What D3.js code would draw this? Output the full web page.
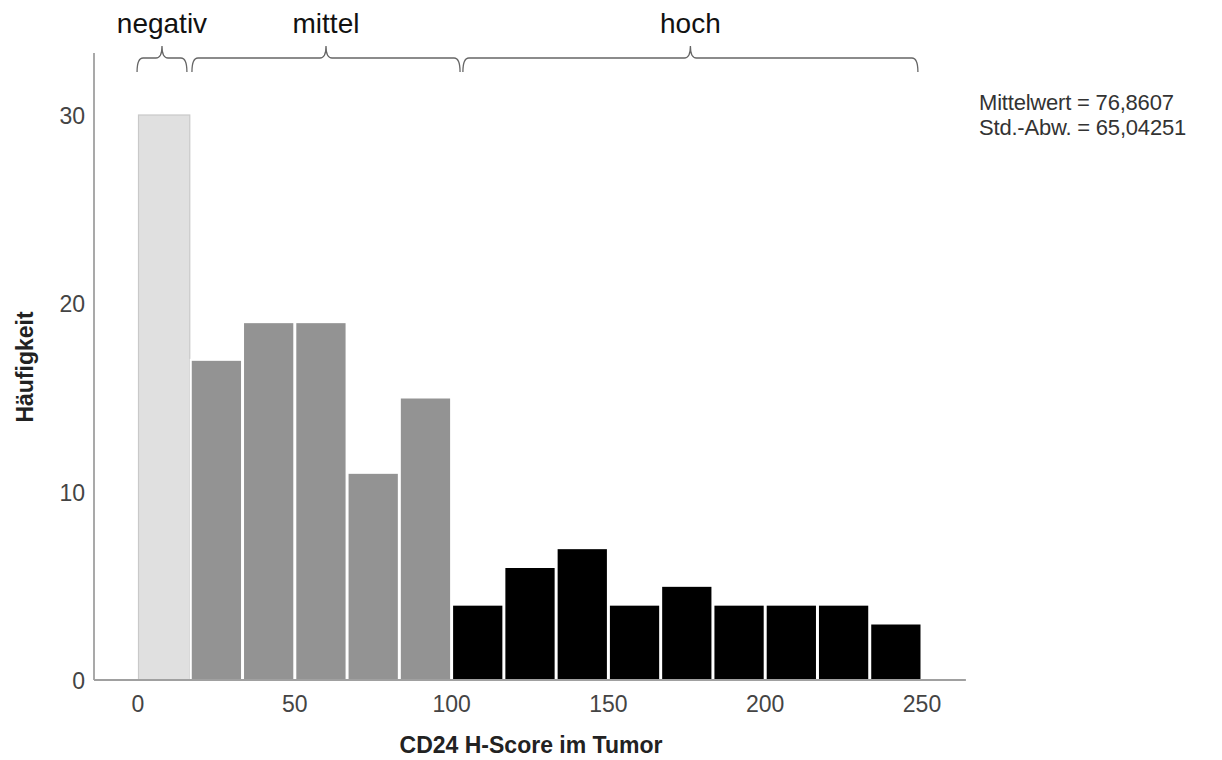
<!DOCTYPE html>
<html>
<head>
<meta charset="utf-8">
<script src="https://cdn.jsdelivr.net/npm/d3@7"></script>
<style>
  body { margin: 0; background: #fff; }
  svg { display: block; font-family: "Liberation Sans", Arial, sans-serif; }
</style>
</head>
<body>
<div id="chart"></div>
<script>
// bin edges (H-Score) and counts
const binStarts = [0, 16.667, 33.333, 50, 66.667, 83.333, 100, 116.667, 133.333, 150, 166.667, 183.333, 200, 216.667, 233.333];
const binWidth = 250 / 15;
const counts = [30, 17, 19, 19, 11, 15, 4, 6, 7, 4, 5, 4, 4, 4, 3];
const groups = ["negativ", "mittel", "mittel", "mittel", "mittel", "mittel", "hoch", "hoch", "hoch", "hoch", "hoch", "hoch", "hoch", "hoch", "hoch"];
const xTicks = [0, 50, 100, 150, 200, 250];
const yTicks = [0, 10, 20, 30];

// braces above the bars (start, end in H-Score units)
const braceLabels = ["negativ", "mittel", "hoch"];
const braceStart = [-0.3, 17.2, 103.6];
const braceEnd = [15.6, 102.7, 248.7];

const statLines = ["Mittelwert = 76,8607", "Std.-Abw. = 65,04251"];

const width = 1222, height = 760;
const fillColors = { negativ: "#e0e0e0", mittel: "#939393", hoch: "#000000" };
const strokeColors = { negativ: "#c9c9c9", mittel: "#ffffff", hoch: "#ffffff" };

const x = d3.scaleLinear().domain([0, 250]).range([138, 922]);
const y = d3.scaleLinear().domain([0, 30]).range([680, 115]);

const svg = d3.select("#chart")
    .append("svg")
    .attr("width", width)
    .attr("height", height);

// bars
svg.append("g")
    .selectAll("rect")
    .data(counts.map((c, i) => ({ start: binStarts[i], count: c, group: groups[i] })))
    .join("rect")
    .attr("x", d => x(d.start) + 0.5)
    .attr("y", d => y(d.count))
    .attr("width", d => x(d.start + binWidth) - x(d.start) - 1)
    .attr("height", d => y(0) - y(d.count))
    .attr("fill", d => fillColors[d.group])
    .attr("stroke", d => strokeColors[d.group])
    .attr("stroke-width", d => d.group === "negativ" ? 1.2 : 2);

// axes lines
svg.append("line")
    .attr("x1", 94).attr("x2", 94)
    .attr("y1", 53).attr("y2", y(0))
    .attr("stroke", "#8c8c8c")
    .attr("stroke-width", 1.5);
svg.append("line")
    .attr("x1", 94).attr("x2", x(264))
    .attr("y1", y(0)).attr("y2", y(0))
    .attr("stroke", "#a0a0a0")
    .attr("stroke-width", 2);

// x tick labels
svg.append("g")
    .selectAll("text")
    .data(xTicks)
    .join("text")
    .attr("x", d => x(d))
    .attr("y", 712)
    .attr("text-anchor", "middle")
    .attr("fill", "#444")
    .style("font-size", "23px")
    .text(d => d);

// y tick labels
svg.append("g")
    .selectAll("text")
    .data(yTicks)
    .join("text")
    .attr("x", 85)
    .attr("y", d => y(d) + 9)
    .attr("text-anchor", "end")
    .attr("fill", "#444")
    .style("font-size", "23px")
    .text(d => d);

// axis titles
svg.append("text")
    .attr("x", 531)
    .attr("y", 753)
    .attr("text-anchor", "middle")
    .attr("fill", "#222")
    .style("font-size", "23px")
    .style("font-weight", "bold")
    .text("CD24 H-Score im Tumor");

svg.append("text")
    .attr("transform", "translate(33, 367) rotate(-90)")
    .attr("text-anchor", "middle")
    .attr("fill", "#222")
    .style("font-size", "23px")
    .style("font-weight", "bold")
    .text("Häufigkeit");

// curly braces
const braceTop = 58, braceBottom = 72, braceTip = 46, r = 6;
const bracePath = (x1, x2) => {
    const m = (x1 + x2) / 2;
    return `M${x1},${braceBottom} Q${x1},${braceTop} ${x1 + r},${braceTop}`
        + ` L${m - r},${braceTop} Q${m},${braceTop} ${m},${braceTip}`
        + ` Q${m},${braceTop} ${m + r},${braceTop}`
        + ` L${x2 - r},${braceTop} Q${x2},${braceTop} ${x2},${braceBottom}`;
};

const braces = svg.append("g")
    .selectAll("g")
    .data(braceLabels.map((l, i) => ({ label: l, start: braceStart[i], end: braceEnd[i] })))
    .join("g");

braces.append("path")
    .attr("d", d => bracePath(x(d.start), x(d.end)))
    .attr("fill", "none")
    .attr("stroke", "#666")
    .attr("stroke-width", 1.3);

braces.append("text")
    .attr("x", d => (x(d.start) + x(d.end)) / 2)
    .attr("y", 33)
    .attr("text-anchor", "middle")
    .attr("fill", "#111")
    .style("font-size", "28px")
    .text(d => d.label);

// statistics
svg.append("g")
    .selectAll("text")
    .data(statLines)
    .join("text")
    .attr("x", 979)
    .attr("y", (d, i) => 110 + i * 25)
    .attr("fill", "#333")
    .style("font-size", "22px")
    .style("letter-spacing", "-0.2px")
    .text(d => d);
</script>
</body>
</html>
